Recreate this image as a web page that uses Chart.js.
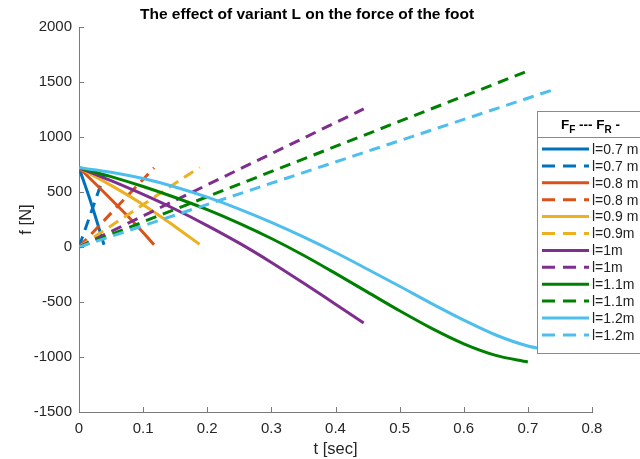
<!DOCTYPE html>
<html>
<head>
<meta charset="utf-8">
<script src="https://cdn.jsdelivr.net/npm/chart.js@4"></script>
<style>
  html, body { margin: 0; padding: 0; background: #fff; }
  #wrap { width: 640px; height: 459px; }
</style>
</head>
<body>
<div id="wrap"><canvas id="c" width="640" height="459"></canvas></div>
<script>
// solid = front foot force F_F, dashed = rear foot force F_R
const t07F = [0, 0.02, 0.039];
const f07F = [720, 380, 20];
const t07R = [0, 0.039];
const f07R = [0, 650];

const t08F = [0, 0.03, 0.06, 0.09, 0.117];
const f08F = [720, 550, 375, 195, 20];
const t08R = [0, 0.117];
const f08R = [0, 720];

const t09F = [0, 0.05, 0.1, 0.15, 0.188];
const f09F = [720, 560, 385, 185, 25];
const t09R = [0, 0.188];
const f09R = [0, 725];

const t10F = [0, 0.05, 0.1, 0.15, 0.2, 0.25, 0.3, 0.35, 0.4, 0.444];
const f10F = [720, 603, 478, 343, 195, 35, -140, -327, -520, -690];
const t10R = [0, 0.444];
const f10R = [0, 1255];

const t11F = [0, 0.05, 0.1, 0.15, 0.2, 0.25, 0.3, 0.35, 0.4, 0.45, 0.5, 0.55, 0.6, 0.65, 0.7];
const f11F = [720, 640, 550, 450, 340, 215, 77, -75, -240, -410, -580, -740, -880, -985, -1045];
const t11R = [0, 0.7];
const f11R = [0, 1600];

const t12F = [0, 0.05, 0.1, 0.15, 0.2, 0.25, 0.3, 0.35, 0.4, 0.45, 0.5, 0.55, 0.6, 0.65, 0.7, 0.745];
const f12F = [720, 680, 622, 546, 453, 345, 224, 92, -50, -202, -357, -515, -665, -800, -900, -950];
const t12R = [0, 0.745];
const f12R = [0, 1440];

const seriesLabels = ['l=0.7 m', 'l=0.7 m', 'l=0.8 m', 'l=0.8 m', 'l=0.9 m', 'l=0.9m',
                      'l=1m', 'l=1m', 'l=1.1m', 'l=1.1m', 'l=1.2m', 'l=1.2m'];
const xTicks = [0, 0.1, 0.2, 0.3, 0.4, 0.5, 0.6, 0.7, 0.8];
const yTicks = [-1500, -1000, -500, 0, 500, 1000, 1500, 2000];

const colors = ['#0072BD', '#D95319', '#EDB120', '#7E2F8E', '#008000', '#4DBEEE'];
const DASH = [11, 7];
const FONT = "'Liberation Sans', Arial, sans-serif";

function pts(ts, fs) {
  return ts.map((t, i) => ({ x: t, y: fs[i] }));
}

const raw = [
  [t07F, f07F], [t07R, f07R],
  [t08F, f08F], [t08R, f08R],
  [t09F, f09F], [t09R, f09R],
  [t10F, f10F], [t10R, f10R],
  [t11F, f11F], [t11R, f11R],
  [t12F, f12F], [t12R, f12R]
];

const datasets = raw.map((r, i) => ({
  label: seriesLabels[i],
  data: pts(r[0], r[1]),
  borderColor: colors[Math.floor(i / 2)],
  backgroundColor: colors[Math.floor(i / 2)],
  borderWidth: 3,
  borderDash: i % 2 ? DASH : [],
  pointRadius: 0,
  cubicInterpolationMode: 'monotone',
  fill: false,
  order: raw.length - i
}));

// inward ticks, title and the boxed legend, matlab style
const extras = {
  id: 'extras',
  afterDraw(chart) {
    const ctx = chart.ctx;
    const xs = chart.scales.x, ys = chart.scales.y;
    const a = chart.chartArea;
    ctx.save();
    ctx.strokeStyle = '#7a7a7a';
    ctx.lineWidth = 1;
    ctx.beginPath();
    xTicks.forEach(v => {
      const px = Math.round(xs.getPixelForValue(v)) + 0.5;
      ctx.moveTo(px, a.bottom);
      ctx.lineTo(px, a.bottom - 5);
    });
    yTicks.forEach(v => {
      const py = Math.round(ys.getPixelForValue(v)) + 0.5;
      ctx.moveTo(a.left, py);
      ctx.lineTo(a.left + 5, py);
    });
    ctx.stroke();

    // title
    ctx.fillStyle = '#000';
    ctx.font = 'bold 15.5px ' + FONT;
    ctx.textAlign = 'center';
    ctx.textBaseline = 'middle';
    ctx.fillText('The effect of variant L on the force of the foot', 307, 15);

    // legend box
    const lx = 537, ly = 111, lw = 110, lh = 242;
    ctx.fillStyle = '#fff';
    ctx.fillRect(lx, ly, lw, lh);
    ctx.strokeStyle = '#8a8a8a';
    ctx.strokeRect(lx + 0.5, ly + 0.5, lw, lh);
    ctx.beginPath();
    ctx.moveTo(lx, 137.5);
    ctx.lineTo(lx + lw, 137.5);
    ctx.stroke();

    // legend title F_F --- F_R -
    ctx.fillStyle = '#000';
    ctx.textAlign = 'left';
    ctx.textBaseline = 'alphabetic';
    let x = 561;
    const base = 129;
    const part = (txt, sub) => {
      ctx.font = (sub ? 'bold 10px ' : 'bold 13.5px ') + FONT;
      ctx.fillText(txt, x, sub ? base + 4 : base);
      x += ctx.measureText(txt).width;
    };
    part('F', false); part('F', true); part(' --- ', false);
    part('F', false); part('R', true); part(' -', false);

    // entries
    ctx.font = '14px ' + FONT;
    ctx.textBaseline = 'middle';
    chart.data.datasets.forEach((ds, i) => {
      const y = 149 + i * 16.9;
      ctx.strokeStyle = ds.borderColor;
      ctx.lineWidth = 3;
      ctx.setLineDash(ds.borderDash.length ? [13, 8] : []);
      ctx.beginPath();
      ctx.moveTo(542, y);
      ctx.lineTo(589, y);
      ctx.stroke();
      ctx.setLineDash([]);
      ctx.fillStyle = '#222';
      ctx.fillText(ds.label, 592, y + 1);
    });
    ctx.restore();
  }
};

new Chart(document.getElementById('c'), {
  type: 'line',
  data: { datasets },
  options: {
    responsive: false,
    animation: false,
    layout: { padding: { top: 27, right: 48, left: 0, bottom: 0 } },
    plugins: {
      legend: { display: false },
      tooltip: { enabled: false }
    },
    scales: {
      x: {
        type: 'linear',
        min: 0,
        max: 0.8,
        afterFit: s => { s.height = 47; },
        afterBuildTicks: s => { s.ticks = xTicks.map(v => ({ value: v })); },
        ticks: {
          padding: 8,
          color: '#262626',
          font: { family: FONT, size: 15 },
          callback: v => String(Number(v.toFixed(1)))
        },
        grid: { drawOnChartArea: false, drawTicks: false },
        border: { color: '#7a7a7a', width: 1 },
        title: {
          display: true,
          text: 't [sec]',
          color: '#262626',
          font: { family: FONT, size: 16.5 },
          padding: { top: 2, bottom: 0 }
        }
      },
      y: {
        min: -1500,
        max: 2000,
        afterFit: s => { s.width = 79; },
        afterBuildTicks: s => { s.ticks = yTicks.map(v => ({ value: v })); },
        ticks: {
          padding: 7,
          color: '#262626',
          font: { family: FONT, size: 15 },
          callback: v => String(v)
        },
        grid: { drawOnChartArea: false, drawTicks: false },
        border: { color: '#7a7a7a', width: 1 },
        title: {
          display: true,
          text: 'f [N]',
          color: '#262626',
          font: { family: FONT, size: 16.5 },
          padding: { top: 17, bottom: 0 }
        }
      }
    }
  },
  plugins: [extras]
});
</script>
</body>
</html>
